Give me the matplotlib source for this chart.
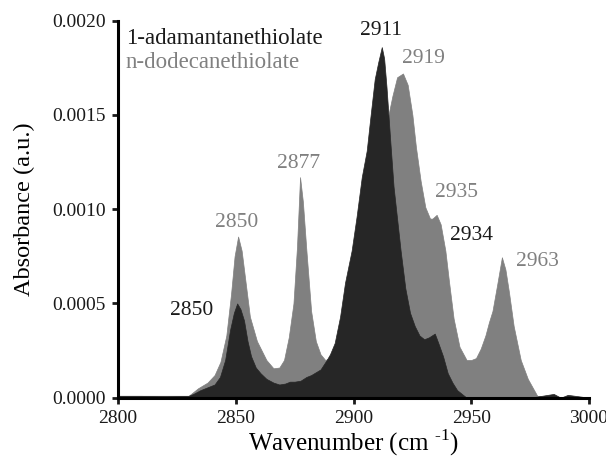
import numpy as np
import matplotlib
matplotlib.use('Agg')
import matplotlib.pyplot as plt

plt.rcParams['font.family'] = ['Liberation Serif', 'DejaVu Serif']
plt.rcParams['mathtext.fontset'] = 'custom'
plt.rcParams['mathtext.rm'] = 'Liberation Serif'

# n-dodecanethiolate (grey)
dodec_wn = [2800, 2810, 2820, 2830, 2834, 2838, 2841, 2843.5, 2846, 2848, 2849.5, 2851, 2852.5,
            2854, 2856, 2859, 2863, 2866, 2868.5, 2870.5, 2872.5, 2874.5, 2876, 2877.3, 2878.5,
            2880, 2882, 2884, 2886, 2888, 2892, 2896, 2900, 2905, 2910, 2914, 2916.5, 2918.5,
            2921, 2923, 2925, 2926.5, 2928.5, 2930.5, 2932.5, 2933.5, 2935.3, 2937, 2939, 2940.5,
            2942.5, 2945, 2948, 2950, 2952, 2954, 2956, 2957.5, 2959, 2961, 2963, 2964.5, 2966,
            2968, 2971, 2974, 2978, 2985, 2990, 2995, 3000]
dodec_abs = [0.1, 0.1, 0.05, 0.1, 0.5, 0.8, 1.2, 1.9, 3.3, 5.5, 7.5, 8.55, 7.8,
             6.3, 4.3, 3.0, 2.0, 1.56, 1.6, 2.0, 3.2, 5.0, 8.0, 11.7, 10.4,
             7.8, 4.6, 3.0, 2.3, 2.0, 2.2, 3.0, 4.5, 7.0, 11.0, 14.5, 16.0, 17.0,
             17.2, 16.6, 15.0, 13.3, 11.5, 10.1, 9.5, 9.5, 9.7, 9.2, 7.8, 6.2,
             4.2, 2.7, 2.0, 2.0, 2.1, 2.6, 3.3, 4.0, 4.6, 6.0, 7.45, 6.8, 5.6,
             3.8, 2.0, 1.0, 0.1, 0.0, 0.0, 0.0, 0.0]

# 1-adamantanethiolate (black)
adam_wn = [2800, 2810, 2820, 2830, 2832, 2835, 2839, 2841, 2843.3, 2845.5, 2847.6, 2849.2, 2850.6,
           2852, 2853.5, 2855, 2856.5, 2858.5, 2860.5, 2863, 2866, 2868.5, 2871, 2873, 2875,
           2877.5, 2880, 2882, 2884, 2886, 2888.6, 2890, 2892, 2894.3, 2896.4, 2899.2, 2901.3,
           2903.5, 2905.6, 2907, 2909, 2910.5, 2912, 2913, 2914, 2915.5, 2917, 2918.5, 2920,
           2922, 2924, 2926, 2928, 2930, 2932, 2934.5, 2936, 2938, 2940, 2942, 2944, 2946, 2948,
           2955, 2965, 2975, 2980, 2985, 2988, 2991, 2994, 2997, 3000]
adam_abs = [0.1, 0.1, 0.1, 0.1, 0.2, 0.4, 0.6, 0.7, 1.1, 2.0, 3.6, 4.5, 5.0,
            4.7, 4.1, 3.0, 2.2, 1.6, 1.3, 1.0, 0.8, 0.7, 0.75, 0.85, 0.85,
            0.9, 1.1, 1.2, 1.35, 1.5, 2.0, 2.3, 2.9, 4.3, 6.1, 7.8, 9.6,
            11.7, 13.1, 14.7, 16.9, 17.8, 18.6, 18.0, 16.5, 13.8, 11.2, 9.5, 7.8,
            5.8, 4.5, 3.8, 3.3, 3.1, 3.2, 3.4, 2.9, 2.2, 1.3, 0.8, 0.4, 0.2, 0.0,
            -0.1, -0.1, 0.0, 0.1, 0.2, 0.0, 0.15, 0.1, 0.05, 0.0]

# peak labels (absorbance in units of 1e-4)
grey_peaks = ['2850', '2877', '2919', '2935', '2963']
grey_px = [2850.4, 2876.6, 2929.5, 2943.8, 2978.3]
grey_py = [9.3, 12.45, 18.0, 10.9, 7.2]
black_peaks = ['2911', '2850', '2934']
black_px = [2911.7, 2831.3, 2950.2]
black_py = [19.5, 4.62, 8.6]

grey = '#808080'
dark = '#262626'

fig = plt.figure(figsize=(6.06, 4.58), dpi=100)
ax = fig.add_axes([0.1947, 0.1317, 0.7773, 0.8231])

d = np.array(dodec_abs) * 1e-4
a = np.array(adam_abs) * 1e-4
ax.fill_between(dodec_wn, 0, d, color=grey, lw=0.5, edgecolor=grey)
ax.fill_between(adam_wn, 0, a, color=dark, lw=0.5, edgecolor=dark)

for t, x, y in zip(grey_peaks, grey_px, grey_py):
    ax.text(x, y * 1e-4, t, color=grey, fontsize=15.5, ha='center', va='center')
for t, x, y in zip(black_peaks, black_px, black_py):
    ax.text(x, y * 1e-4, t, color='#1a1a1a', fontsize=15.5, ha='center', va='center')

ax.text(0.017, 0.952, '1-adamantanethiolate', transform=ax.transAxes, color='#1a1a1a',
        fontsize=16.5, ha='left', va='center')
ax.text(0.017, 0.888, 'n-dodecanethiolate', transform=ax.transAxes, color=grey,
        fontsize=16.5, ha='left', va='center')

ax.set_xlim(2800, 3000)
ax.set_ylim(0, 0.002)
ax.set_xticks([2800, 2850, 2900, 2950, 3000])
ax.set_yticks([0, 0.0005, 0.001, 0.0015, 0.002])
ax.set_yticklabels(['0.0000', '0.0005', '0.0010', '0.0015', '0.0020'])
ax.spines['top'].set_visible(False)
ax.spines['right'].set_visible(False)
ax.spines['left'].set_linewidth(2.2)
ax.spines['bottom'].set_linewidth(2.2)
ax.tick_params(direction='out', length=4, width=2, labelsize=14, pad=5, colors='#1a1a1a')
ax.set_xlabel(r'Wavenumber (cm $^{\text{-1}}$)', fontsize=18, labelpad=0)
ax.set_ylabel('Absorbance (a.u.)', fontsize=17.5, labelpad=12)

fig.savefig('out.png', dpi=100)
